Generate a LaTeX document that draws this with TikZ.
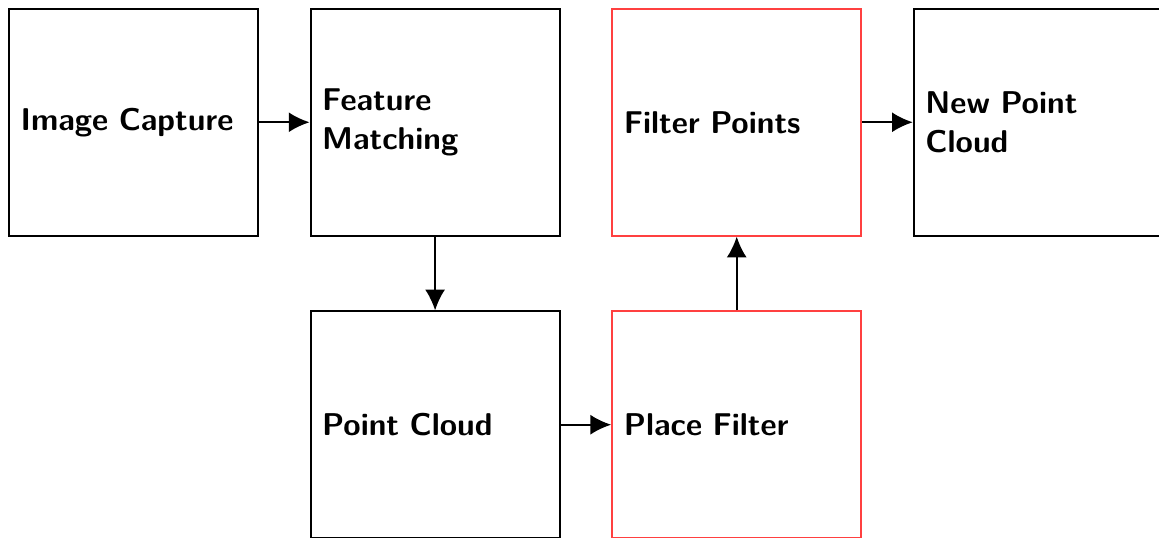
\documentclass[tikz,border=0pt]{standalone}
\usepackage{tikz}
\usetikzlibrary{positioning, arrows.meta, calc}

\newcommand{\stagefont}{\fontsize{10.8}{13.3}\selectfont\sffamily\bfseries\hyphenpenalty=10000\relax}

\begin{document}
\begin{tikzpicture}[
    stage/.style={draw=black, line width=0.7pt, minimum width=3cm, minimum height=2.73cm,
      text width=2.72cm, align=left, inner sep=0.14cm, font=\stagefont},
    filterstage/.style={stage, draw=red!75},
    flow/.style={-{Latex[length=0.25cm, width=0.24cm]}, line width=0.7pt},
    node distance=0.89cm and 0.61cm]
    % Frame of the picture
    \useasboundingbox (-0.096, 0.096) rectangle (13.87, -6.386);
    % Top row
    \node[stage, anchor=north west] (capture) at (0, 0) {Image Capture};
    \node[stage, right=of capture] (matching) {Feature Matching};
    % Bottom row
    \node[stage, below=of matching] (cloud) {Point Cloud};
    \node[filterstage, right=of cloud] (place) {Place Filter};
    % Filter and result
    \node[filterstage, above=of place] (filter) {Filter Points};
    \node[stage, right=of filter] (newcloud) {New Point Cloud};
    % Arrows
    \draw[flow] (capture) -- (matching);
    \draw[flow] (matching) -- (cloud);
    \draw[flow] (cloud) -- (place);
    \draw[flow] (place) -- (filter);
    \draw[flow] (filter) -- (newcloud);
\end{tikzpicture}
\end{document}
